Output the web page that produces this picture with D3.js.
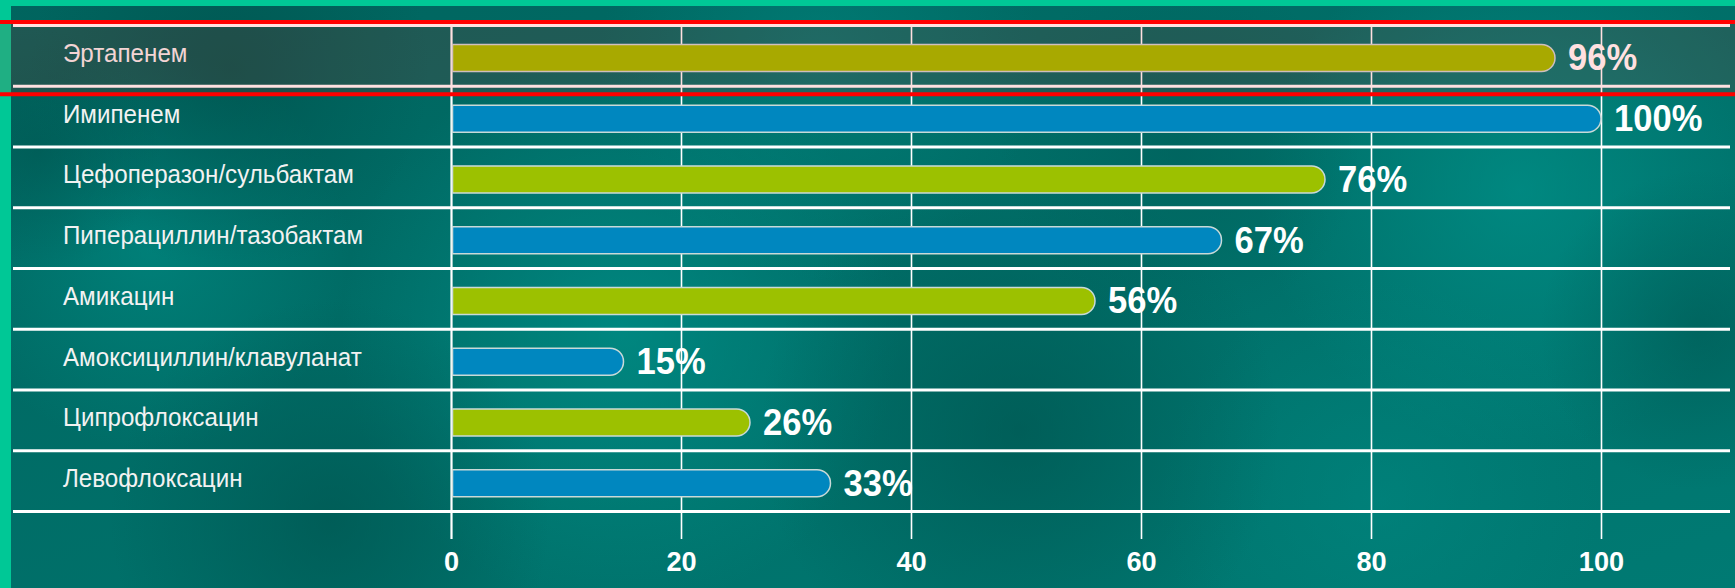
<!DOCTYPE html>
<html>
<head>
<meta charset="utf-8">
<script src="https://cdn.jsdelivr.net/npm/d3@7/dist/d3.min.js"></script>
<style>
  html, body { margin: 0; padding: 0; background: #006e68; }
  svg { display: block; }
</style>
</head>
<body>
<svg id="chart" width="1735" height="588"></svg>
<script>
// Carbapenem and other antibiotic susceptibility, %
const categories = [
  "Эртапенем",
  "Имипенем",
  "Цефоперазон/сульбактам",
  "Пиперациллин/тазобактам",
  "Амикацин",
  "Амоксициллин/клавуланат",
  "Ципрофлоксацин",
  "Левофлоксацин"
];
const values = [96, 100, 76, 67, 56, 15, 26, 33];
const tickValues = [0, 20, 40, 60, 80, 100];
const tickLabels = ["0", "20", "40", "60", "80", "100"];
const highlighted = ["Эртапенем"];

const W = 1735, H = 588;
const palette = ["#9cc100", "#0087bf"];
const font = "'Liberation Sans', Arial, sans-serif";

const svg = d3.select("#chart");
const defs = svg.append("defs");

// ---- background: teal base with soft light/dark patches ----
const base = defs.append("linearGradient").attr("id", "bgBase")
  .attr("x1", 0).attr("y1", 0).attr("x2", 1).attr("y2", 1);
base.append("stop").attr("offset", 0).attr("stop-color", "#00645e");
base.append("stop").attr("offset", 1).attr("stop-color", "#007a73");

svg.append("rect").attr("width", W).attr("height", H).attr("fill", "url(#bgBase)");

const blobs = [
  { cx: 150, cy: 250, r: 200, c: "#00958d", o: 0.5 },
  { cx: 620, cy: 330, r: 280, c: "#009790", o: 0.6 },
  { cx: 1520, cy: 190, r: 260, c: "#00978f", o: 0.6 },
  { cx: 1380, cy: 500, r: 220, c: "#008a83", o: 0.5 },
  { cx: 820, cy: 60, r: 220, c: "#008d86", o: 0.45 },
  { cx: 230, cy: 70, r: 200, c: "#004f4a", o: 0.6 },
  { cx: 40, cy: 150, r: 120, c: "#00504b", o: 0.5 },
  { cx: 1020, cy: 430, r: 260, c: "#004e49", o: 0.55 },
  { cx: 330, cy: 520, r: 220, c: "#00514c", o: 0.6 },
  { cx: 1700, cy: 330, r: 160, c: "#00524d", o: 0.5 },
  { cx: 1180, cy: 150, r: 180, c: "#005a55", o: 0.45 }
];
blobs.forEach((b, i) => {
  const g = defs.append("radialGradient").attr("id", "blob" + i);
  g.append("stop").attr("offset", 0).attr("stop-color", b.c).attr("stop-opacity", b.o);
  g.append("stop").attr("offset", 1).attr("stop-color", b.c).attr("stop-opacity", 0);
  svg.append("circle").attr("cx", b.cx).attr("cy", b.cy).attr("r", b.r)
    .attr("fill", `url(#blob${i})`);
});

// bright frame strips along the top and left edges
svg.append("rect").attr("x", 0).attr("y", 0).attr("width", W).attr("height", 6).attr("fill", "#00c896");
svg.append("rect").attr("x", 0).attr("y", 0).attr("width", 11).attr("height", H).attr("fill", "#00c896");

// ---- scales ----
const x = d3.scaleLinear().domain([0, 100]).range([451, 1601]);
const y = d3.scaleBand().domain(categories).range([25.5, 511.5]).paddingInner(0);
const bh = 27;

// ---- vertical gridlines + tick labels ----
const axisY = 539;
const axis = d3.axisBottom(x)
  .tickValues(tickValues)
  .tickFormat((d, i) => tickLabels[i])
  .tickSizeInner(-(axisY - y.range()[0]))
  .tickSizeOuter(0)
  .tickPadding(12);

const gAxis = svg.append("g").attr("transform", `translate(0,${axisY})`).call(axis);
gAxis.select(".domain").remove();
gAxis.selectAll(".tick line")
  .attr("stroke", "#ffffff")
  .attr("stroke-width", d => d === 0 ? 2.2 : 1.6);
gAxis.selectAll(".tick text")
  .attr("fill", "#ffffff")
  .attr("transform", "scale(0.97,1)")
  .style("font-family", font)
  .style("font-weight", "bold")
  .style("font-size", "28px");

// ---- horizontal row separators ----
const rowLines = categories.map(c => y(c)).concat([y.range()[1]]);
svg.append("g").selectAll("line").data(rowLines).join("line")
  .attr("x1", 13).attr("x2", 1730)
  .attr("y1", d => d).attr("y2", d => d)
  .attr("stroke", "#ffffff").attr("stroke-width", 3);

// ---- bars: square left end, rounded right end ----
function barPath(v, cy) {
  const x0 = x(0) + 1.5, x1 = x(v), r = bh / 2;
  const top = cy - r, bot = cy + r;
  return `M${x0},${top}H${x1 - r}A${r},${r} 0 0 1 ${x1 - r},${bot}H${x0}Z`;
}
const rows = categories.map((c, i) => ({ c, v: values[i], i }));

svg.append("g").selectAll("path").data(rows).join("path")
  .attr("d", d => barPath(d.v, y(d.c) + y.bandwidth() / 2 + 2))
  .attr("fill", d => palette[d.i % 2])
  .attr("stroke", "#c9dad8")
  .attr("stroke-width", 1.5);

// ---- category labels (slightly condensed) ----
svg.append("g").selectAll("text").data(rows).join("text")
  .attr("transform", d => `translate(63,${y(d.c) + y.bandwidth() / 2 - 3}) scale(0.93,1)`)
  .attr("dy", "0.35em")
  .attr("fill", "#f2f2f2")
  .style("font-family", font)
  .style("font-size", "26px")
  .text(d => d.c);

// ---- value labels ----
svg.append("g").selectAll("text").data(rows).join("text")
  .attr("transform", d => `translate(${x(d.v) + 13},${y(d.c) + y.bandwidth() / 2 + 1.5}) scale(0.96,1)`)
  .attr("dy", "0.36em")
  .attr("fill", "#ffffff")
  .style("font-family", font)
  .style("font-weight", "bold")
  .style("font-size", "36px")
  .text(d => d.v + "%");

// ---- highlight band around the selected row ----
highlighted.forEach(c => {
  svg.append("rect")
    .attr("x", -10).attr("width", W + 20)
    .attr("y", y(c) - 3.5).attr("height", y.bandwidth() + 11.5)
    .attr("fill", "rgba(255,0,0,0.12)")
    .attr("stroke", "#ff0000")
    .attr("stroke-width", 4);
});
</script>
</body>
</html>
